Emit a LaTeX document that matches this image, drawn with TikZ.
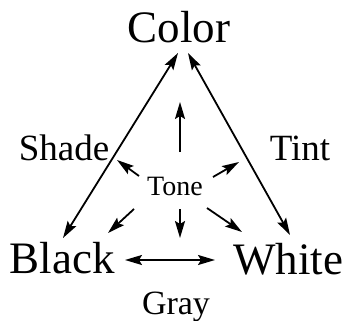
\documentclass[tikz,border=0pt]{standalone}
\usepackage{fontspec}
\setmainfont{Liberation Serif}
\usetikzlibrary{arrows.meta,calc}
\begin{document}
\begin{tikzpicture}[x=1pt,y=-1pt,
  lbl/.style={inner sep=0pt,anchor=base},
  big/.style={lbl,font=\fontsize{45}{50}\selectfont},
  mid/.style={lbl,font=\fontsize{37}{42}\selectfont},
  sml/.style={lbl,font=\fontsize{28}{32}\selectfont},
  tip/.style={Stealth[length=17pt,width=10pt,inset=3pt]},
  arr/.style={line width=1.8pt,-{Stealth[length=17pt,width=10pt,inset=3pt]}},
  dbl/.style={line width=1.8pt,{Stealth[length=17pt,width=10pt,inset=3pt]}-{Stealth[length=17pt,width=10pt,inset=3pt]}}]
\useasboundingbox (0,0) rectangle (348,321);
\node[big] (Color) at (179,43) {Color};
\node[big] (Black) at (62,273) {Black};
\node[big] (White) at (288,274) {White};
\node[mid] (Shade) at (64,160) {Shade};
\node[mid] (Tint) at (300,160) {Tint};
\node[sml] (Tone) at (175,195) {Tone};
\node[lbl,font=\fontsize{34}{38}\selectfont] (Gray) at (176,314) {Gray};
\draw[dbl] ($(Color.base)+(-1,10)$) -- ($(Black.base)+(1,-35)$);
\draw[dbl] ($(Color.base)+(9,10)$) -- ($(White.base)+(2,-39)$);
\draw[dbl] ($(Black.base)+(63,-13)$) -- ($(White.base)+(-73,-14)$);
\draw[arr] ($(Tone.base)+(5,-43)$) -- ($(Tone.base)+(5,-93)$);
\draw[arr] ($(Tone.base)+(-36,-19)$) -- ($(Tone.base)+(-58,-35)$);
\draw[arr] ($(Tone.base)+(38,-18)$) -- ($(Tone.base)+(64,-33)$);
\draw[arr] ($(Tone.base)+(-41,14)$) -- ($(Tone.base)+(-67,38)$);
\draw[arr] ($(Tone.base)+(5,14)$) -- ($(Tone.base)+(5,43)$);
\draw[arr] ($(Tone.base)+(32,13)$) -- ($(Tone.base)+(67,37)$);
\end{tikzpicture}
\end{document}
